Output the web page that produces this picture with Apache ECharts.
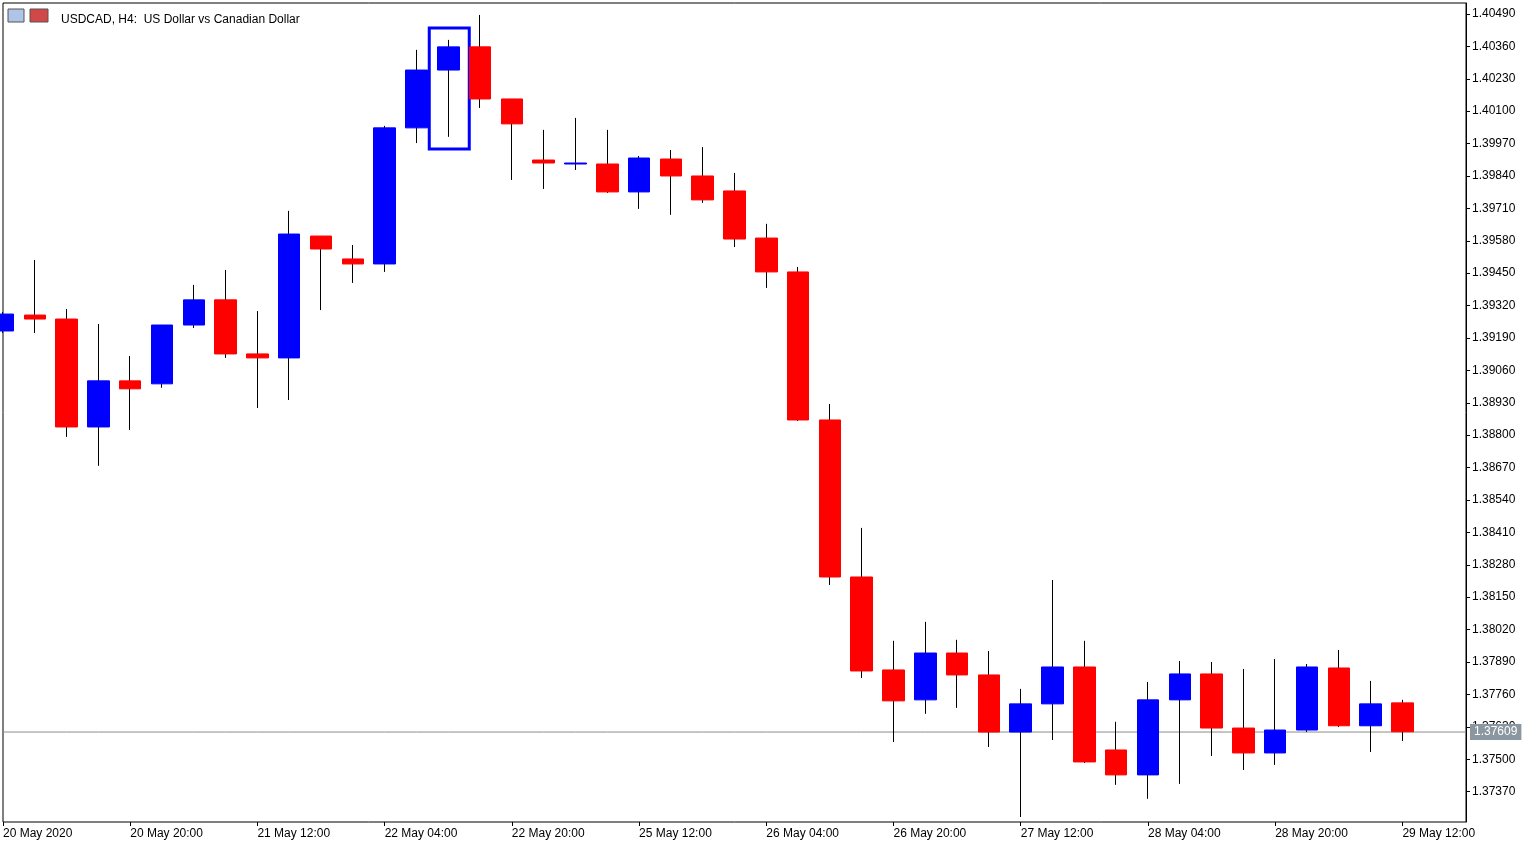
<!DOCTYPE html>
<html><head><meta charset="utf-8">
<script src="https://cdn.jsdelivr.net/npm/echarts@6/dist/echarts.min.js"></script>
<style>html,body{margin:0;padding:0;background:#fff}#c{width:1536px;height:854px}</style>
</head><body><div id="c"></div>
<script>
const categories = ['20 May 2020','','','','20 May 20:00','','','','21 May 12:00','','','','22 May 04:00','','','','22 May 20:00','','','','25 May 12:00','','','','26 May 04:00','','','','26 May 20:00','','','','27 May 12:00','','','','28 May 04:00','','','','28 May 20:00','','','','29 May 12:00','',''];
const opens  = [1.39218,1.39282,1.39266,1.38833,1.39018,1.39006,1.39242,1.39343,1.39126,1.39110,1.39599,1.39507,1.39487,1.40033,1.40265,1.40358,1.40149,1.39904,1.39888,1.39888,1.39776,1.39908,1.39840,1.39780,1.39591,1.39455,1.38861,1.38231,1.37858,1.37738,1.37926,1.37838,1.37609,1.37722,1.37870,1.37537,1.37437,1.37738,1.37842,1.37625,1.37525,1.37617,1.37866,1.37634,1.37726];
const closes = [1.39286,1.39266,1.38833,1.39018,1.38986,1.39242,1.39343,1.39126,1.39110,1.39607,1.39547,1.39487,1.40033,1.40265,1.40358,1.40149,1.40049,1.39892,1.39892,1.39776,1.39912,1.39840,1.39744,1.39587,1.39455,1.38861,1.38231,1.37854,1.37734,1.37926,1.37838,1.37609,1.37722,1.37870,1.37489,1.37437,1.37738,1.37842,1.37625,1.37525,1.37617,1.37870,1.37634,1.37722,1.37610];
const lows   = [1.39210,1.39210,1.38793,1.38677,1.38821,1.38990,1.39230,1.39110,1.38909,1.38941,1.39302,1.39411,1.39455,1.39972,1.39997,1.40113,1.39824,1.39788,1.39864,1.39772,1.39708,1.39684,1.39732,1.39555,1.39391,1.38857,1.38199,1.37826,1.37569,1.37682,1.37706,1.37549,1.37268,1.37577,1.37485,1.37397,1.37341,1.37401,1.37513,1.37457,1.37477,1.37609,1.37629,1.37529,1.37573];
const highs  = [1.39294,1.39503,1.39306,1.39246,1.39118,1.39242,1.39403,1.39463,1.39298,1.39700,1.39599,1.39563,1.40041,1.40346,1.40386,1.40486,1.40149,1.40025,1.40073,1.40025,1.39920,1.39944,1.39956,1.39852,1.39648,1.39475,1.38925,1.38428,1.37975,1.38051,1.37979,1.37934,1.37782,1.38219,1.37975,1.37650,1.37810,1.37894,1.37890,1.37862,1.37902,1.37882,1.37938,1.37814,1.37738];
const priceTicks = [1.37370,1.37500,1.37630,1.37760,1.37890,1.38020,1.38150,1.38280,1.38410,1.38540,1.38670,1.38800,1.38930,1.39060,1.39190,1.39320,1.39450,1.39580,1.39710,1.39840,1.39970,1.40100,1.40230,1.40360,1.40490];
const lastPrice = 1.37609;
const highlightIndex = 14, highlightTop = 1.40434, highlightBottom = 1.39948;

const wickData = opens.map((o,i)=>[o,closes[i],lows[i],highs[i]]);
const bodyData = opens.map((o,i)=>[o,closes[i],Math.min(o,closes[i]),Math.max(o,closes[i])]);
const lastLine = categories.map(()=>lastPrice);
const F = 'Liberation Sans, Arial, sans-serif';
const chart = echarts.init(document.getElementById('c'));
chart.setOption({
  animation:false,
  title:{text:'USDCAD, H4:  US Dollar vs Canadian Dollar',left:56,top:9,textStyle:{fontSize:12,fontWeight:'normal',color:'#000',fontFamily:F}},
  grid:{left:3,right:70,top:3,bottom:32,show:true,borderColor:'#000',borderWidth:1},
  xAxis:{type:'category',data:categories,boundaryGap:false,
    axisLine:{show:false},axisTick:{show:true,interval:3,length:4,lineStyle:{color:'#000'}},
    axisLabel:{interval:3,align:'left',margin:6,color:'#000',fontSize:12,fontFamily:F},splitLine:{show:false}},
  yAxis:{type:'value',position:'right',min:1.37248,max:1.40534,scale:true,
    axisLine:{show:true,lineStyle:{color:'#000'}},
    axisTick:{show:true,length:4,customValues:priceTicks,lineStyle:{color:'#000'}},
    axisLabel:{customValues:priceTicks,formatter:v=>v.toFixed(5),color:'#000',fontSize:12,fontFamily:F,margin:6},
    splitLine:{show:false}},
  series:[
    {type:'line',data:lastLine,symbol:'none',silent:true,z:1,
      lineStyle:{color:'#8c8c8c',width:1},
      endLabel:{show:true,formatter:()=>lastPrice.toFixed(5),backgroundColor:'#8a96a0',color:'#fff',fontSize:12,fontFamily:F,padding:[2,4],distance:4}},
    {type:'candlestick',data:wickData,barWidth:1,z:2,
      itemStyle:{color:'#000',color0:'#000',borderColor:'#000',borderColor0:'#000',borderWidth:1}},
    {type:'candlestick',data:bodyData,barWidth:22,z:3,
      itemStyle:{color:'#0000ff',color0:'#ff0000',borderColor:'#0000ff',borderColor0:'#ff0000',borderWidth:1}}
  ]
});
function drawExtras(){
  const p1 = chart.convertToPixel({gridIndex:0},[highlightIndex,highlightTop]);
  const p2 = chart.convertToPixel({gridIndex:0},[highlightIndex,highlightBottom]);
  chart.setOption({graphic:[
    {type:'rect',shape:{x:p1[0]-19,y:p1[1],width:40,height:p2[1]-p1[1]},style:{fill:'none',stroke:'#0000ff',lineWidth:3}},
    {type:'rect',shape:{x:8,y:9,width:16,height:13},style:{fill:'#b0c4e8',stroke:'#555',lineWidth:1}},
    {type:'rect',shape:{x:30,y:9,width:18,height:13},style:{fill:'#d04848',stroke:'#555',lineWidth:1}}
  ]});
}
drawExtras();
</script></body></html>
